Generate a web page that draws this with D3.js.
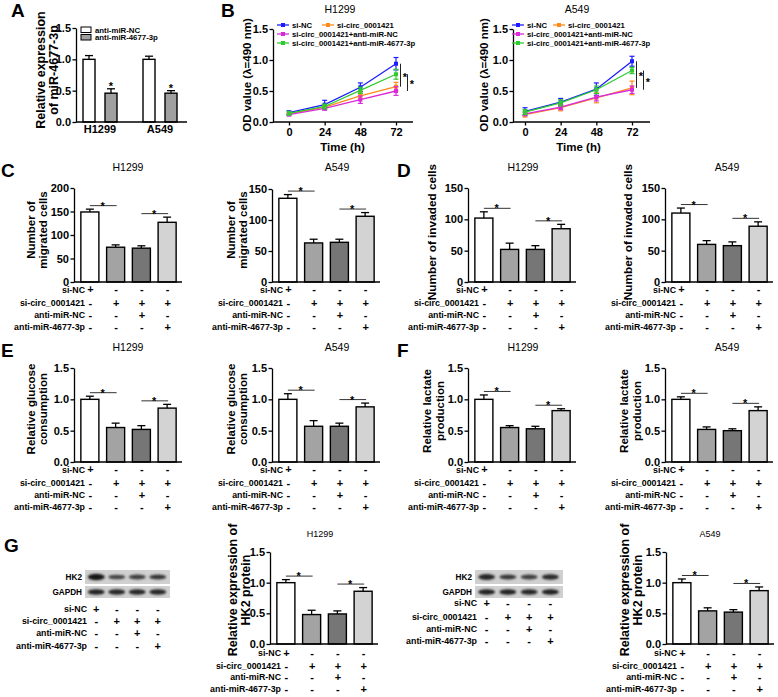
<!DOCTYPE html>
<html><head><meta charset="utf-8">
<script src="https://cdn.jsdelivr.net/npm/d3@7"></script>
<style>body{margin:0;background:#fff}svg{display:block}text{font-family:"Liberation Sans",Arial,Helvetica,sans-serif}</style>
</head><body><svg id="c" width="778" height="697"></svg>
<script>
// ---------------- DATA ----------------
const conditions = ["c1","c2","c3","c4"];
const tableRows = ["si-NC","si-circ_0001421","anti-miR-NC","anti-miR-4677-3p"];
const tableSigns = [["+","-","-","-"],["-","+","+","+"],["-","-","+","-"],["-","-","-","+"]];
const barFills = ["#ffffff","#a3a3a3","#767676","#d3d3d3"];

// Panel A
const aCells = ["H1299","A549"];
const aSeries = ["anti-miR-NC","anti-miR-4677-3p"];
const aSeriesFill = ["#ffffff","#a0a0a0"];
const aNC = [1.0, 1.0], aNCErr = [0.06, 0.05];
const aMiR = [0.46, 0.46], aMiRErr = [0.07, 0.04];
const relTicks = [0, 0.5, 1.0, 1.5];

// Panel B
const times = [0, 24, 48, 72];
const bSeries = ["si-NC","si-circ_0001421","si-circ_0001421+anti-miR-NC","si-circ_0001421+anti-miR-4677-3p"];
const bColors = ["#1c1cff","#ff8a1c","#d92ad9","#2fcc2f"];
const bH1299 = [[0.15,0.28,0.56,0.94],[0.13,0.24,0.42,0.57],[0.12,0.22,0.36,0.50],[0.14,0.25,0.51,0.77]];
const bH1299Err = [[0.03,0.07,0.07,0.10],[0.02,0.03,0.05,0.07],[0.02,0.03,0.06,0.07],[0.03,0.04,0.05,0.08]];
const bA549 = [[0.17,0.32,0.53,0.98],[0.12,0.23,0.39,0.55],[0.13,0.24,0.40,0.52],[0.16,0.31,0.52,0.83]];
const bA549Err = [[0.06,0.06,0.10,0.08],[0.04,0.05,0.08,0.11],[0.03,0.04,0.06,0.06],[0.04,0.05,0.06,0.05]];

// Panels C-G
const migH1299 = [149,74,72,127], migH1299Err = [6,5,5,11];
const migA549 = [135,63,64,106], migA549Err = [6,6,5,6];
const invH1299 = [102,52,52,85], invH1299Err = [10,10,6,7];
const invA549 = [110,60,58,89], invA549Err = [8,6,6,7];
const gluH1299 = [1.0,0.55,0.52,0.86], gluH1299Err = [0.05,0.07,0.06,0.06];
const gluA549 = [1.0,0.57,0.57,0.88], gluA549Err = [0.09,0.09,0.05,0.06];
const lacH1299 = [1.0,0.55,0.53,0.82], lacH1299Err = [0.07,0.03,0.04,0.03];
const lacA549 = [1.0,0.52,0.50,0.82], lacA549Err = [0.04,0.04,0.03,0.06];
const hk2H1299 = [1.0,0.48,0.49,0.86], hk2H1299Err = [0.05,0.07,0.05,0.06];
const hk2A549 = [1.0,0.54,0.52,0.87], hk2A549Err = [0.06,0.05,0.04,0.06];
const ticks200 = [0,50,100,150,200];
const ticks150 = [0,50,100,150];
// western blot band darkness (0..1)
const blotHK2H1299 = [1.0,0.72,0.75,0.8], blotGAPDHH1299 = [0.92,0.9,0.9,0.9];
const blotHK2A549 = [0.9,0.8,0.75,0.88], blotGAPDHA549 = [0.92,0.92,0.9,0.92];

// ---------------- DRAWING ----------------
const svg = d3.select("#c");
const defs = svg.append("defs");
defs.append("filter").attr("id","blur").attr("x","-30%").attr("y","-60%").attr("width","160%").attr("height","220%")
  .append("feGaussianBlur").attr("stdDeviation",0.9);

function txt(g, x, y, s, size, anchor="start", weight="bold") {
  return g.append("text").attr("x",x).attr("y",y).text(s).attr("font-size",size)
    .attr("font-weight",weight).attr("text-anchor",anchor).attr("fill","#000");
}
function yTitle(g, lines, xs, cy, size) {
  lines.forEach((l,i)=> g.append("text").attr("transform",`translate(${xs[i]},${cy}) rotate(-90)`)
    .attr("text-anchor","middle").attr("dy","0.35em").attr("font-size",size).attr("font-weight","bold").text(l));
}
function yAxis(g, y, x0, ticks, fmt) {
  const ax = g.append("g").attr("transform",`translate(${x0},0)`)
    .call(d3.axisLeft(y).tickValues(ticks).tickFormat(fmt).tickSize(3.5).tickSizeOuter(0).tickPadding(1.5));
  ax.attr("font-family",null).attr("font-size",11).attr("font-weight","bold");
  ax.select(".domain").attr("stroke","#000").attr("stroke-width",1.3);
  ax.selectAll(".tick line").attr("stroke","#000").attr("stroke-width",1.3);
  ax.selectAll(".tick text").attr("fill","#000");
  return ax;
}
function panelLetter(x, y, s) { txt(svg, x, y, s, 19); }

// ---- Panel A ----
(function(){
  const g = svg.append("g");
  const x0 = 76, yb = 122, yt = 28;
  const y = d3.scaleLinear().domain([0,1.5]).range([yb,yt]);
  const gx = d3.scaleBand().domain(aCells).range([x0-6, x0+114]);
  const sx = d3.scaleBand().domain(aSeries).range([-17,17]).paddingInner(0.4545);
  const vals = [aNC, aMiR], errs = [aNCErr, aMiRErr];
  aCells.forEach((c,ci)=>{
    const gc = gx(c) + gx.bandwidth()/2;
    aSeries.forEach((s,si)=>{
      const v = vals[si][ci], e = errs[si][ci];
      const bx = gc + sx(s), cx = bx + sx.bandwidth()/2;
      g.append("rect").attr("x",bx).attr("y",y(v)).attr("width",sx.bandwidth()).attr("height",yb-y(v))
        .attr("fill",aSeriesFill[si]).attr("stroke","#000").attr("stroke-width",1.4);
      g.append("line").attr("x1",cx).attr("x2",cx).attr("y1",y(v)).attr("y2",y(v+e)).attr("stroke","#000").attr("stroke-width",1.3);
      g.append("line").attr("x1",cx-4).attr("x2",cx+4).attr("y1",y(v+e)).attr("y2",y(v+e)).attr("stroke","#000").attr("stroke-width",1.3);
      if (si===1) txt(g, cx, y(v+e)+1, "*", 11, "middle");
    });
    txt(g, gc, 133, c, 11, "middle");
  });
  yAxis(g, y, x0, relTicks, d3.format(".1f"));
  g.append("line").attr("x1",x0).attr("x2",x0+111).attr("y1",yb).attr("y2",yb).attr("stroke","#000").attr("stroke-width",1.3);
  aSeries.forEach((s,si)=>{
    g.append("rect").attr("x",81).attr("y",27+si*7.5).attr("width",10).attr("height",5.5)
      .attr("fill",aSeriesFill[si]).attr("stroke","#000").attr("stroke-width",1);
    txt(g, 95, 32.5+si*7.5, s, 7.8);
  });
  yTitle(g, ["Relative expression","of miR-4677-3p"], [41,54], 70, 12.5);
  panelLetter(11, 17, "A");
})();

// ---- Panel B ----
function linePanel(p) {
  const g = svg.append("g");
  const yb = 122, yt = 29;
  const y = d3.scaleLinear().domain([0,1.5]).range([yb,yt]);
  const x = d3.scaleLinear().domain([0,72]).range([p.zeroX, p.zeroX+107]);
  yAxis(g, y, p.x0, relTicks, d3.format(".1f"));
  const xa = g.append("g").attr("transform",`translate(0,${yb})`)
    .call(d3.axisBottom(x).tickValues(times).tickSize(3.5).tickPadding(2.5).tickSizeOuter(0));
  xa.attr("font-family",null).attr("font-size",11).attr("font-weight","bold");
  xa.select(".domain").remove();
  xa.selectAll(".tick line").attr("stroke","#000").attr("stroke-width",1.3);
  xa.selectAll(".tick text").attr("fill","#000");
  g.append("line").attr("x1",p.x0).attr("x2",p.x0+p.axLen).attr("y1",yb).attr("y2",yb).attr("stroke","#000").attr("stroke-width",1.3);
  const line = d3.line().x((d,i)=>x(times[i])).y(d=>y(d));
  p.data.forEach((s,si)=>{
    const col = bColors[si];
    s.forEach((v,i)=>{
      const e = p.err[si][i], cx = x(times[i]);
      g.append("line").attr("x1",cx).attr("x2",cx).attr("y1",y(v-e)).attr("y2",y(v+e)).attr("stroke",col).attr("stroke-width",1.2);
      [v-e,v+e].forEach(w=> g.append("line").attr("x1",cx-2.5).attr("x2",cx+2.5).attr("y1",y(w)).attr("y2",y(w)).attr("stroke",col).attr("stroke-width",1.2));
    });
    g.append("path").datum(s).attr("d",line).attr("fill","none").attr("stroke",col).attr("stroke-width",1.3);
    g.selectAll(null).data(s).join("rect").attr("x",(d,i)=>x(times[i])-2).attr("y",d=>y(d)-2)
      .attr("width",4).attr("height",4).attr("fill",col);
  });
  // significance brackets at 72 h
  const last = times.length-1;
  [[0,1,p.b1],[3,2,p.b2]].forEach(([a,b,off])=>{
    const lx = x(72)+off;
    const y1 = y(p.data[a][last]), y2 = y(p.data[b][last]);
    g.append("line").attr("x1",lx).attr("x2",lx).attr("y1",y1).attr("y2",y2).attr("stroke","#222").attr("stroke-width",1);
    txt(g, lx+4.5, (y1+y2)/2+5.5, "*", 11, "middle");
  });
  // legend
  const pos = [[p.lx,25],[p.lx+p.lgap,25],[p.lx,34],[p.lx,43]];
  bSeries.forEach((s,si)=>{
    const [lx,ly] = pos[si];
    g.append("line").attr("x1",lx).attr("x2",lx+12).attr("y1",ly).attr("y2",ly).attr("stroke",bColors[si]).attr("stroke-width",1.3);
    g.append("rect").attr("x",lx+4).attr("y",ly-2).attr("width",4).attr("height",4).attr("fill",bColors[si]);
    txt(g, lx+15, ly+3, s, 7.7);
  });
  txt(g, x(36), 151, "Time (h)", 11.5, "middle");
  txt(g, p.titleX, 13, p.title, 10.5, "middle", "normal");
  yTitle(g, ["OD value (\u03bb=490 nm)"], [p.ytx], 75, 11.5);
}
linePanel({x0:273, zeroX:289, axLen:140, data:bH1299, err:bH1299Err, b1:4.5, b2:11.5, lx:277, lgap:45, title:"H1299", titleX:340, ytx:247});
linePanel({x0:513, zeroX:525, axLen:137, data:bA549, err:bA549Err, b1:4.5, b2:11.5, lx:512, lgap:41, title:"A549", titleX:577, ytx:484});
panelLetter(221, 17, "B");

// ---- Bar panels C-G ----
function barPanel(p) {
  const g = svg.append("g");
  const y = d3.scaleLinear().domain([0,p.max]).range([p.yb,p.yt]);
  const x = d3.scaleBand().domain(conditions).range([p.x0+3, p.x0+106]).paddingInner(0.3).paddingOuter(0.15);
  const cx = i => x(conditions[i]) + x.bandwidth()/2;
  g.selectAll(null).data(p.vals).join("rect")
    .attr("x",(d,i)=>x(conditions[i])).attr("y",d=>y(d)).attr("width",x.bandwidth()).attr("height",d=>p.yb-y(d))
    .attr("fill",(d,i)=>barFills[i]).attr("stroke","#000").attr("stroke-width",1.4);
  p.vals.forEach((v,i)=>{
    const e = p.errs[i], ty = y(v+e);
    g.append("line").attr("x1",cx(i)).attr("x2",cx(i)).attr("y1",y(v)).attr("y2",ty).attr("stroke","#000").attr("stroke-width",1.3);
    g.append("line").attr("x1",cx(i)-4).attr("x2",cx(i)+4).attr("y1",ty).attr("y2",ty).attr("stroke","#000").attr("stroke-width",1.3);
  });
  yAxis(g, y, p.x0, p.ticks, p.fmt);
  g.append("line").attr("x1",p.x0).attr("x2",p.x0+108).attr("y1",p.yb).attr("y2",p.yb).attr("stroke","#000").attr("stroke-width",1.3);
  [[0,1],[2,3]].forEach(([a,b])=>{
    const top = Math.max(p.vals[a]+p.errs[a], p.vals[b]+p.errs[b]);
    const ly = y(top)-3.5;
    g.append("line").attr("x1",cx(a)).attr("x2",cx(b)+1).attr("y1",ly).attr("y2",ly).attr("stroke","#333").attr("stroke-width",1);
    txt(g, (cx(a)+cx(b))/2, ly+4, "*", 11, "middle");
  });
  tableRows.forEach((r,ri)=>{
    const ty = p.yb + p.rowOff[ri] + 3;
    txt(g, p.x0+11, ty, r, 8.8, "end");
    tableSigns[ri].forEach((s,ci)=> txt(g, cx(ci)+0.5, ty+0.5, s, 11, "middle"));
  });
  txt(g, p.titleX, p.titleY, p.title, p.titleSize||10.5, "middle", "normal");
  yTitle(g, p.yTitle, p.ytx, p.ytcy, p.ytSize);
}
const rowOffA = [7.5,21,33,45], rowOffG = [9,22,33,45];
const f1 = d3.format(".1f"), f0 = d3.format("d");
// C
barPanel({x0:74, yb:282, yt:188, max:200, ticks:ticks200, fmt:f0, vals:migH1299, errs:migH1299Err, rowOff:rowOffA,
  title:"H1299", titleX:128, titleY:171, yTitle:["Number of","migrated cells"], ytx:[31,43], ytcy:230, ytSize:11.5});
barPanel({x0:272, yb:282, yt:189, max:150, ticks:ticks150, fmt:f0, vals:migA549, errs:migA549Err, rowOff:rowOffA,
  title:"A549", titleX:337, titleY:171, yTitle:["Number of","migrated cells"], ytx:[231,243], ytcy:230, ytSize:11.5});
panelLetter(1, 177, "C");
// D
barPanel({x0:468, yb:282, yt:188, max:150, ticks:ticks150, fmt:f0, vals:invH1299, errs:invH1299Err, rowOff:rowOffA,
  title:"H1299", titleX:523, titleY:171, yTitle:["Number of invaded cells"], ytx:[432], ytcy:232, ytSize:11.8});
barPanel({x0:665, yb:282, yt:188, max:150, ticks:ticks150, fmt:f0, vals:invA549, errs:invA549Err, rowOff:rowOffA,
  title:"A549", titleX:727, titleY:171, yTitle:["Number of invaded cells"], ytx:[628], ytcy:232, ytSize:11.8});
panelLetter(397, 177, "D");
// E
barPanel({x0:74, yb:462, yt:368, max:1.5, ticks:relTicks, fmt:f1, vals:gluH1299, errs:gluH1299Err, rowOff:rowOffA,
  title:"H1299", titleX:128, titleY:351, yTitle:["Relative glucose","consumption"], ytx:[31,43], ytcy:409, ytSize:11.5});
barPanel({x0:272, yb:462, yt:368, max:1.5, ticks:relTicks, fmt:f1, vals:gluA549, errs:gluA549Err, rowOff:rowOffA,
  title:"A549", titleX:337, titleY:351, yTitle:["Relative glucose","consumption"], ytx:[231,243], ytcy:409, ytSize:11.5});
panelLetter(1, 357, "E");
// F
barPanel({x0:468, yb:462, yt:368, max:1.5, ticks:relTicks, fmt:f1, vals:lacH1299, errs:lacH1299Err, rowOff:rowOffA,
  title:"H1299", titleX:523, titleY:351, yTitle:["Relative lactate","production"], ytx:[427,440], ytcy:411, ytSize:11.5});
barPanel({x0:665, yb:462, yt:368, max:1.5, ticks:relTicks, fmt:f1, vals:lacA549, errs:lacA549Err, rowOff:rowOffA,
  title:"A549", titleX:727, titleY:351, yTitle:["Relative lactate","production"], ytx:[624,637], ytcy:411, ytSize:11.5});
panelLetter(397, 357, "F");
// G bars
barPanel({x0:270, yb:644, yt:552, max:1.5, ticks:relTicks, fmt:f1, vals:hk2H1299, errs:hk2H1299Err, rowOff:rowOffG,
  title:"H1299", titleX:320, titleY:537, titleSize:9, yTitle:["Relative expression of","HK2 protein"], ytx:[233,246], ytcy:590, ytSize:12.5});
barPanel({x0:666, yb:644, yt:552, max:1.5, ticks:relTicks, fmt:f1, vals:hk2A549, errs:hk2A549Err, rowOff:rowOffG,
  title:"A549", titleX:710, titleY:537, titleSize:9, yTitle:["Relative expression of","HK2 protein"], ytx:[625,638], ytcy:590, ytSize:12.5});
panelLetter(4, 552, "G");

// ---- Western blots ----
function blot(p) {
  const g = svg.append("g");
  const x = d3.scaleBand().domain(conditions).range([p.x+1, p.x+p.w-2]);
  const cx = i => x(conditions[i]) + x.bandwidth()/2;
  const shade = d3.interpolateRgb("#c4c4c4","#141414");
  const strips = [{name:"HK2", y:570, h:14, vals:p.hk2, ry:[2,3]}, {name:"GAPDH", y:586, h:12, vals:p.gapdh, ry:[2,2.4]}];
  strips.forEach(s=>{
    g.append("rect").attr("x",p.x).attr("y",s.y).attr("width",p.w).attr("height",s.h).attr("fill","#d0d0d0");
    g.selectAll(null).data(s.vals).join("ellipse").attr("cx",(d,i)=>cx(i)).attr("cy",s.y+s.h/2)
      .attr("rx",8.5).attr("ry",d=>s.ry[0]+s.ry[1]*(d-0.6)).attr("fill",d=>shade(d)).attr("filter","url(#blur)");
    txt(g, p.x-3, s.y+s.h/2+3, s.name, 8.2, "end");
  });
  tableRows.forEach((r,ri)=>{
    const ty = p.rowY[ri] + 3;
    txt(g, p.labelEnd, ty, r, 8.8, "end");
    tableSigns[ri].forEach((s,ci)=> txt(g, cx(ci), ty+0.5, s, 11, "middle"));
  });
}
blot({x:85, w:85, hk2:blotHK2H1299, gapdh:blotGAPDHH1299, rowY:[609,621,633,646], labelEnd:87});
blot({x:475, w:88, hk2:blotHK2A549, gapdh:blotGAPDHA549, rowY:[603,617,629,641], labelEnd:477});
</script></body></html>
